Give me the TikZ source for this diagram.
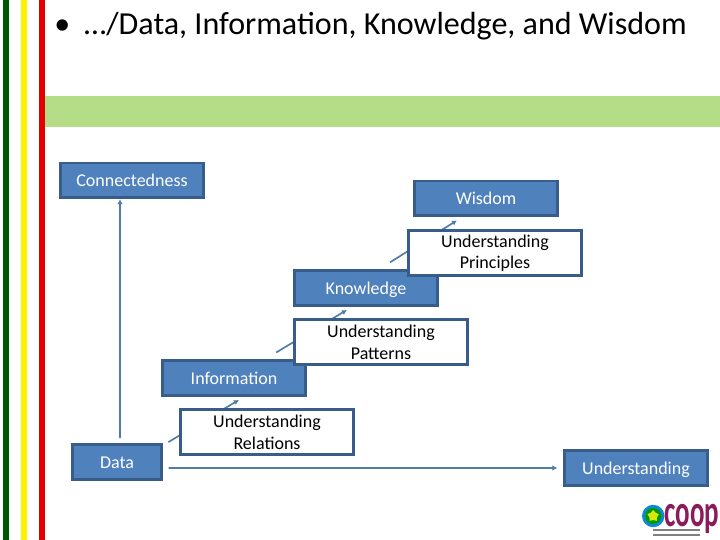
\documentclass[tikz,border=0pt]{standalone}
\usepackage{fontspec}
\setmainfont{Carlito}
\usetikzlibrary{arrows.meta,shapes.geometric}
\definecolor{boxfill}{HTML}{4F81BD}
\definecolor{boxline}{HTML}{385D8A}
\definecolor{flowline}{HTML}{4F7CA8}
\definecolor{barfill}{HTML}{B5DD88}
\definecolor{coopred}{HTML}{8A1C5C}
\tikzset{
    stage/.style={draw=boxline,fill=boxfill,line width=2.1pt,text=white,font=\fontsize{12.8}{15}\selectfont,
        minimum width=3.56cm,minimum height=0.87cm,text height=0.31cm,text depth=0cm,inner sep=0pt,align=center},
    bridge/.style={draw=boxline,fill=white,line width=2.1pt,text=black,font=\fontsize{12.8}{15.6}\selectfont,
        minimum width=4.31cm,minimum height=1.13cm,inner sep=0pt,align=center},
    flow/.style={draw=flowline,line width=1.2pt,-{Latex[length=3.5pt,width=4pt]}},
}
\begin{document}
\begin{tikzpicture}
    \useasboundingbox (0,0) rectangle (18,13.5);
    %side stripes and bar
    \fill [green!35!black] (0.075,0) rectangle (0.225,13.5);
    \fill [yellow] (0.525,0) rectangle (0.675,13.5);
    \fill [red!90!black] (0.975,0) rectangle (1.125,13.5);
    \fill [barfill] (1.125,10.325) rectangle (18,11.1);
    %title
    \node [anchor=base west,inner sep=0pt,font=\fontsize{22.8}{25}\selectfont] (title) at (1.35,12.63)
        {\textbullet\hspace{0.35cm}…/Data, Information, Knowledge, and Wisdom};
    %blue boxes
    \node [stage] (connectedness) at (3.3,8.99) {Connectedness};
    \node [stage] (wisdom) at (12.15,8.54) {Wisdom};
    \node [stage] (knowledge) at (9.15,6.3) {Knowledge};
    \node [stage] (information) at (5.85,4.05) {Information};
    \node [stage,minimum width=2.21cm] (data) at (2.925,1.95) {Data};
    \node [stage] (understanding) at (15.9,1.8) {Understanding};
    %lines
    \draw [flow,shorten <=0.125cm] ([xshift=0.075cm]data.north) -- ([xshift=-0.3cm]connectedness.south);
    \draw [flow,shorten <=0.15cm,shorten >=0.15cm] ([yshift=-0.15cm]data.east) -- (understanding.west);
    \draw [flow,shorten <=0.05cm,shorten >=0.15cm] ([xshift=0.1cm]data.north east) -- ([xshift=0.25cm]information.south);
    \draw [flow,shorten <=0.32cm,shorten >=0.15cm] ([xshift=0.78cm]information.north) -- ([xshift=-0.35cm]knowledge.south);
    \draw [flow,shorten <=0.32cm,shorten >=0.15cm] ([xshift=0.33cm]knowledge.north) -- ([xshift=-0.6cm]wisdom.south);
    %white boxes
    \node [bridge] (principles) at (12.375,7.17) {Understanding\\Principles};
    \node [bridge] (patterns) at (9.525,4.95) {Understanding\\Patterns};
    \node [bridge] (relations) at (6.675,2.7) {Understanding\\Relations};
    %logo
    \fill [cyan!70!blue] (16.33,0.6) circle (0.28);
    \fill [green!60!black] (16.33,0.6) circle (0.2);
    \node [star,star points=5,fill=yellow!85!green,inner sep=0pt,minimum size=0.3cm] (coopstar) at (16.33,0.6) {};
    \node [anchor=base,text=coopred,inner sep=0pt,xscale=0.6,transform shape,font=\fontsize{32}{32}\selectfont\bfseries] (cooplogo) at (17.3,0.33) {coop};
    \draw [gray,line width=0.9pt] (16.33,0.25) -- (17.5,0.25);
    \draw [gray,line width=0.9pt] (16.33,0.125) -- (17.5,0.125);
\end{tikzpicture}
\end{document}
